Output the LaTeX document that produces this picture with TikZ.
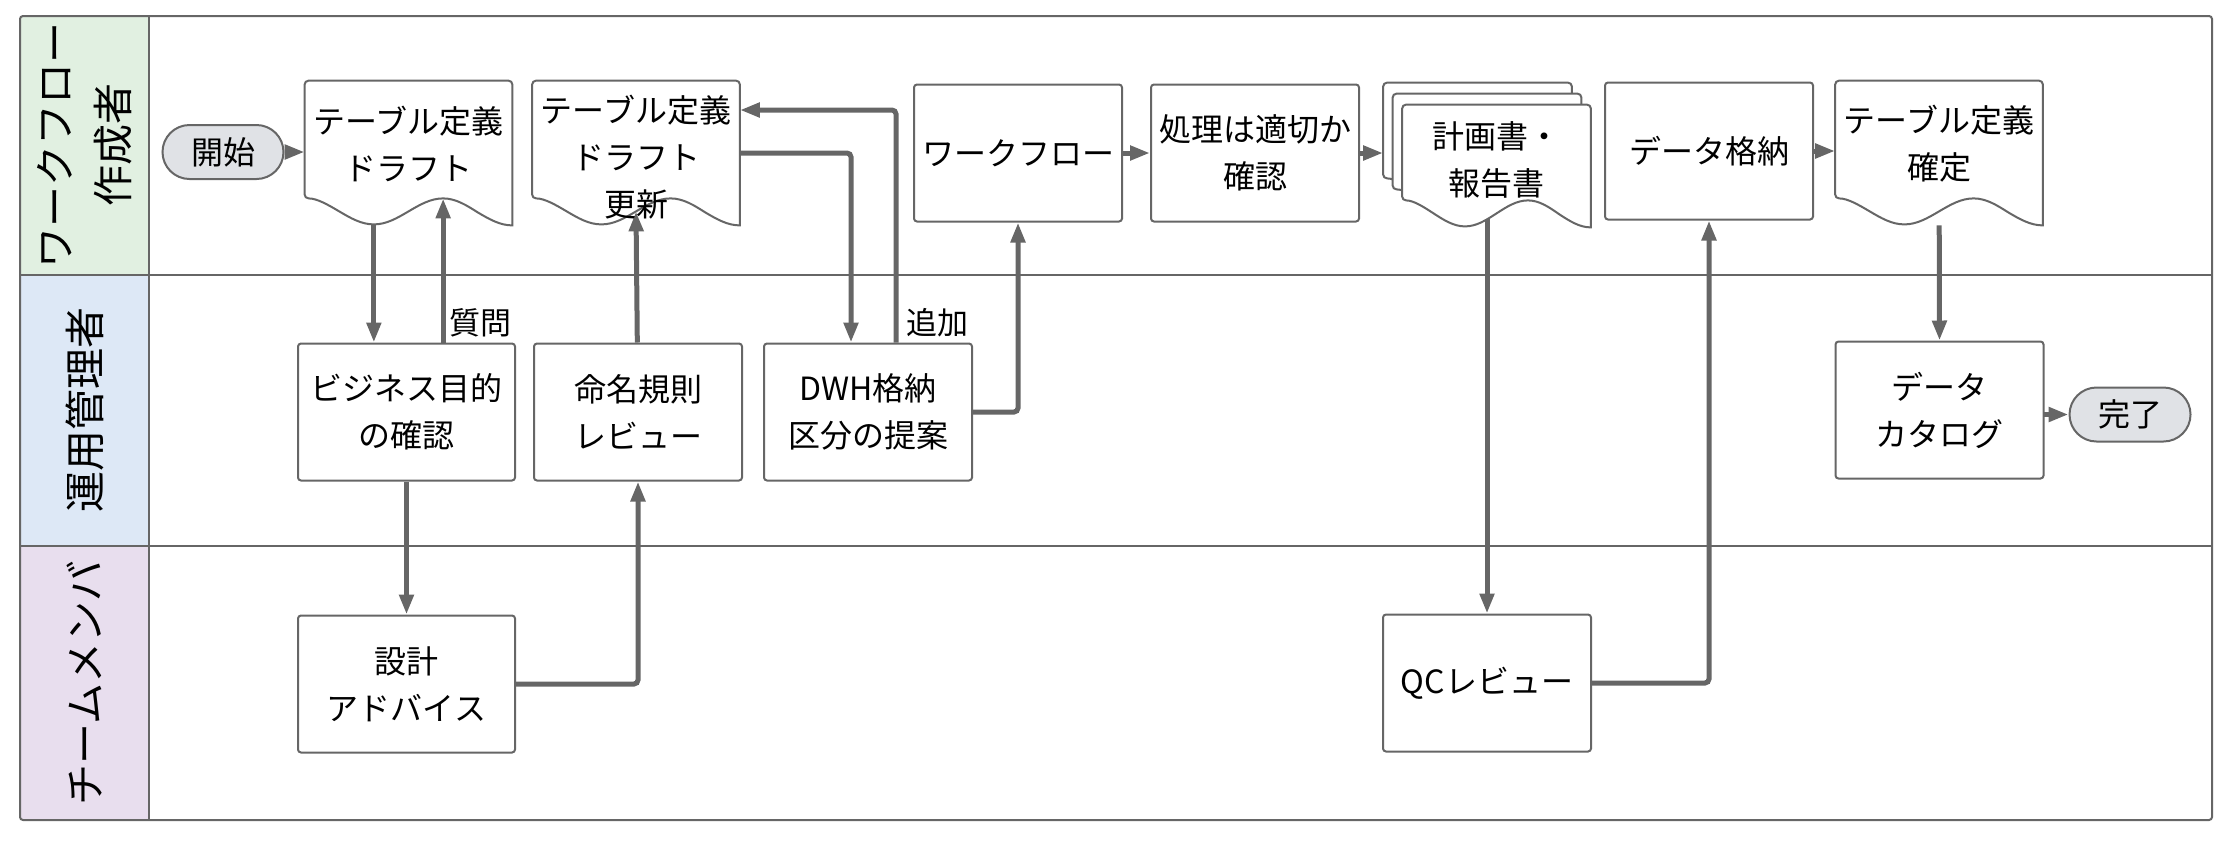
\documentclass[tikz,border=0pt]{standalone}
\usepackage{fontspec}
\setmainfont{Noto Sans CJK JP}
\usetikzlibrary{positioning, calc, arrows.meta, backgrounds}

\definecolor{lineg}{RGB}{102,102,102}
\definecolor{lanegreen}{RGB}{225,240,225}
\definecolor{laneblue}{RGB}{221,232,246}
\definecolor{lanepurple}{RGB}{232,222,238}
\definecolor{termfill}{RGB}{224,226,230}

% sheet with a wavy bottom edge: #1 top left, #2 bottom right, #3 prefix
\newcommand{\docsheet}[3]{%
  \path #1 coordinate (#3nw) #2 coordinate (#3se);
  \path (#3nw |- #3se) coordinate (#3sw) (#3se |- #3nw) coordinate (#3ne);
  \path ($(#3sw)!0.3333!(#3se)+(0,-1)$) coordinate (#3t)
        ($(#3sw)!0.5!(#3se)+(0,-14)$) coordinate (#3m)
        ($(#3sw)!0.6667!(#3se)+(0,-27)$) coordinate (#3c);
  \draw[sheetline] ($(#3sw)+(0,-27)$) cos ($(#3sw)!0.1667!(#3se)+(0,-14)$) sin (#3t)
    cos (#3m) sin (#3c) cos ($(#3sw)!0.8333!(#3se)+(0,-13)$) sin (#3se)
    [rounded corners=2pt] -- (#3ne) -- (#3nw) -- cycle;
}

\begin{document}
\begin{tikzpicture}[x=0.5pt, y=-0.5pt]
\tikzstyle{box}=[rectangle, draw=lineg, line width=1pt, rounded corners=1.5pt, fill=white, minimum width=104pt, minimum height=68.5pt, inner sep=0pt, align=center, font=\fontsize{16}{23.5}\selectfont]
\tikzstyle{term}=[rectangle, draw=lineg, line width=1pt, rounded corners=13.5pt, fill=termfill, minimum width=60.5pt, minimum height=27pt, inner sep=0pt, font=\fontsize{16}{23.5}\selectfont]
\tikzstyle{docbox}=[rectangle, minimum width=103.5pt, minimum height=72pt, inner sep=0pt]
\tikzstyle{doctext}=[align=center, inner sep=0pt, font=\fontsize{16}{23.5}\selectfont]
\tikzstyle{sheetline}=[draw=lineg, line width=1pt, fill=white]
\tikzstyle{connect}=[draw=lineg, line width=2.5pt, rounded corners=2pt, -{Triangle[length=10pt, width=7pt]}]
\tikzstyle{lane}=[draw=lineg, line width=1pt]
\tikzstyle{lanelabel}=[rotate=90, align=center, inner sep=0pt, font=\fontsize{20.5}{29}\selectfont]
\tikzstyle{note}=[anchor=west, inner sep=0pt, font=\fontsize{15.5}{20}\selectfont]
\useasboundingbox (0,0) rectangle (2230,842);

% lanes
\begin{scope}[on background layer]
    \fill[lanegreen] (20,16) rectangle (149,275);
    \fill[laneblue] (20,275) rectangle (149,546);
    \fill[lanepurple] (20,546) rectangle (149,820);
    \draw[lane, rounded corners=1.5pt] (20,16) rectangle (2212,820);
    \draw[lane] (20,275) -- (2212,275) (20,546) -- (2212,546) (149,16) -- (149,820);
\end{scope}
\node[lanelabel] (lw) at (84.5,145) {ワークフロー\\作成者};
\node[lanelabel] (lo) at (84.5,410) {運用管理者};
\node[lanelabel] (lt) at (84.5,683) {チームメンバ};

% top lane
\node[term] (st) at (223,152) {開始};
\node[docbox] (d1) at (408.5,153) {};
\docsheet{(d1.north west)}{(d1.south east)}{d1}
\node[doctext] (d1x) at ($(d1)+(0,-9)$) {テーブル定義\\ドラフト};
\node[docbox] (d2) at (636,153) {};
\docsheet{(d2.north west)}{(d2.south east)}{d2}
\node[doctext] (d2x) at ($(d2)+(0,4)$) {テーブル定義\\ドラフト\\更新};
\node[box] (wf) at (1018,153) {ワークフロー};
\node[box, right=13.5pt of wf] (chk) {処理は適切か\\確認};
\node[docbox] (md) at (1487,155) {};
\docsheet{(md.north west)}{($(md.south east)+(-19,-22)$)}{mdb}
\docsheet{($(md.north west)+(9.5,11)$)}{($(md.south east)+(-9.5,-11)$)}{mdm}
\docsheet{($(md.north west)+(19,22)$)}{(md.south east)}{mdf}
\node[doctext] (mdx) at ($(md)+(9.5,5)$) {計画書・\\報告書};
\node[box] (ds) at (1709,151) {データ格納};
\node[docbox] (d3) at (1939,153) {};
\docsheet{(d3.north west)}{(d3.south east)}{d3}
\node[doctext] (d3x) at ($(d3)+(0,-9)$) {テーブル定義\\確定};

% middle lane
\node[box, minimum width=108.5pt] (b1) at (406.5,412) {ビジネス目的\\の確認};
\node[box, right=8.5pt of b1] (n1) {命名規則\\レビュー};
\node[box, right=10pt of n1] (dwh) {DWH格納\\区分の提案};
\node[box] (dc) at (1939.5,410) {データ\\カタログ};
\node[term] (en) at (2130,414.5) {完了};

% bottom lane
\node[box, minimum width=108.5pt, below=66.5pt of b1] (s1) {設計\\アドバイス};
\node[box] (qc) at (1487,683) {QCレビュー};

\node[note] (q1) at ($(d1c |- b1.north)+(6,-20)$) {質問};
\node[note] (a1) at ($(dwh.north)+(38,-20)$) {追加};

\begin{scope}[on background layer]
    \draw[connect] (st) -- (st -| d1.west);
    \draw[connect] (d1t) -- (d1t |- b1.north);
    \draw[connect] (d1c |- b1.north) -- (d1c);
    \draw[connect] (b1) -- (s1.north);
    \draw[connect] (s1) -| (n1.south);
    \draw[connect] (n1) -- (d2m);
    \draw[connect] (d2) -| ($(dwh.north)+(-17,0)$);
    \draw[connect] ($(dwh.north)+(28,0)$) |- ($(d2.east)+(0,-43)$);
    \draw[connect] (dwh) -| (wf.south);
    \draw[connect] (wf) -- (chk.west);
    \draw[connect] (chk) -- (chk -| md.west);
    \draw[connect] (qc.north |- md) -- (qc.north);
    \draw[connect] (qc) -| (ds.south);
    \draw[connect] (ds) -- (ds -| d3.west);
    \draw[connect] (d3) -- (dc.north);
    \draw[connect] (en -| dc) -- (en.west);
\end{scope}
\end{tikzpicture}
\end{document}
